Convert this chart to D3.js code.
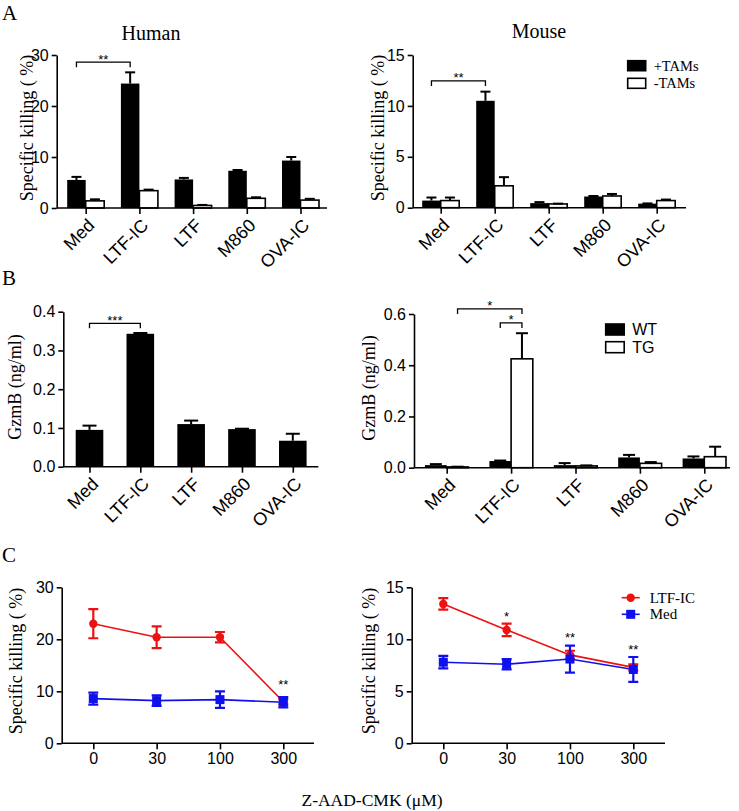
<!DOCTYPE html>
<html>
<head>
<meta charset="utf-8">
<script src="https://cdn.jsdelivr.net/npm/d3@7"></script>
<style>
  body { margin: 0; background: #fff; }
  svg text { fill: #000; }
</style>
</head>
<body>
<div id="fig"></div>
<script>
const groups = ["Med", "LTF-IC", "LTF", "M860", "OVA-IC"];

// A: specific killing, +TAMs / -TAMs
const humanPlus = [5.5, 24.4, 5.6, 7.3, 9.3];
const humanPlusErr = [0.6, 2.2, 0.3, 0.15, 0.7];
const humanMinus = [1.4, 3.4, 0.5, 1.9, 1.55];
const humanMinusErr = [0.3, 0.2, 0.1, 0.2, 0.25];
const mousePlus = [0.7, 10.5, 0.45, 1.1, 0.4];
const mousePlusErr = [0.3, 0.9, 0.1, 0.05, 0.02];
const mouseMinus = [0.7, 2.15, 0.37, 1.15, 0.7];
const mouseMinusErr = [0.3, 0.85, 0.03, 0.2, 0.1];

// B: GzmB (ng/ml)
const gzmbHuman = [0.095, 0.343, 0.110, 0.097, 0.067];
const gzmbHumanErr = [0.011, 0.002, 0.009, 0.001, 0.018];
const gzmbWT = [0.01, 0.026, 0.01, 0.04, 0.036];
const gzmbWTErr = [0.004, 0.002, 0.008, 0.01, 0.008];
const gzmbTG = [0.003, 0.425, 0.007, 0.017, 0.043];
const gzmbTGErr = [0.001, 0.1, 0.002, 0.005, 0.039];

// C: dose response
const doses = ["0", "30", "100", "300"];
const ltfHuman = [23.0, 20.4, 20.4, 8.0];
const ltfHumanErr = [2.8, 2.1, 1.0, 0.5];
const medHuman = [8.6, 8.2, 8.4, 7.9];
const medHumanErr = [1.15, 1.0, 1.6, 1.0];
const ltfMouse = [13.4, 10.9, 8.5, 7.3];
const ltfMouseErr = [0.55, 0.6, 0.4, 0.3];
const medMouse = [7.8, 7.6, 8.1, 7.1];
const medMouseErr = [0.6, 0.5, 1.3, 1.2];

const SERIF = "'Liberation Serif','Times New Roman',serif";
const SANS = "'Liberation Sans',Arial,sans-serif";
const RED = "#ee1111", BLUE = "#1010ee";

const svg = d3.select("#fig").append("svg")
    .attr("width", 739)
    .attr("height", 811);

function yAxis(g, y, ax, ticks, fmt) {
  const a = g.append("g")
      .attr("transform", `translate(${ax},0)`)
      .call(d3.axisLeft(y).tickValues(ticks).tickFormat(fmt)
        .tickSize(5).tickPadding(3).tickSizeOuter(0));
  a.selectAll("path,line").attr("stroke", "#000").attr("stroke-width", 1.6);
  a.selectAll("text").attr("font-family", SANS).attr("font-size", 16);
}

function xAxis(g, x, o, rotate) {
  g.append("line")
      .attr("x1", o.ax).attr("x2", o.end)
      .attr("y1", o.y0).attr("y2", o.y0)
      .attr("stroke", "#000").attr("stroke-width", 1.6);
  const a = g.append("g")
      .attr("transform", `translate(0,${o.y0})`)
      .call(d3.axisBottom(x).tickSize(6).tickPadding(3).tickSizeOuter(0));
  a.select(".domain").remove();
  a.selectAll("line").attr("stroke", "#000").attr("stroke-width", 1.6);
  const t = a.selectAll("text").attr("font-family", SANS).attr("font-size", 16);
  if (rotate) {
    t.attr("x", 0).attr("y", 0).attr("dy", "0.35em")
     .attr("font-size", 18)
     .attr("transform", "translate(5,14) rotate(-45)")
     .attr("text-anchor", "end");
  }
}

function yLabel(text, lx, ly) {
  svg.append("text")
      .attr("transform", `translate(${lx},${ly}) rotate(-90)`)
      .attr("text-anchor", "middle")
      .attr("font-family", SERIF)
      .attr("font-size", 18)
      .text(text);
}

function barPanel(o) {
  const x = d3.scalePoint().domain(groups).range([o.c0, o.c1]);
  const y = d3.scaleLinear().domain([0, o.max]).range([o.y0, o.yTop]);
  const g = svg.append("g");
  const n = o.series.length;
  const off = (i) => n === 1 ? -o.bw / 2 : (i === 0 ? -o.bw : 0);
  const mid = (grp, i) => x(grp) + off(i) + o.bw / 2;

  o.series.forEach((s, i) => {
    const rows = groups.map((grp, k) => ({ grp, v: s.vals[k], e: s.errs[k] }));
    g.selectAll(null).data(rows).join("rect")
        .attr("x", d => x(d.grp) + off(i))
        .attr("y", d => y(d.v))
        .attr("width", o.bw)
        .attr("height", d => y(0) - y(d.v))
        .attr("fill", s.fill)
        .attr("stroke", "#000")
        .attr("stroke-width", s.fill === "#000" ? 0 : 1.6);
    g.selectAll(null).data(rows).join("line")
        .attr("x1", d => mid(d.grp, i)).attr("x2", d => mid(d.grp, i))
        .attr("y1", d => y(d.v)).attr("y2", d => y(d.v + d.e))
        .attr("stroke", "#000").attr("stroke-width", 2);
    g.selectAll(null).data(rows).join("line")
        .attr("x1", d => mid(d.grp, i) - o.cap / 2).attr("x2", d => mid(d.grp, i) + o.cap / 2)
        .attr("y1", d => y(d.v + d.e)).attr("y2", d => y(d.v + d.e))
        .attr("stroke", "#000").attr("stroke-width", 2);
  });

  yAxis(g, y, o.ax, o.ticks, o.fmt);
  xAxis(g, x, o, true);

  (o.brackets || []).forEach(b => {
    const x1 = mid(b.from[0], b.from[1]), x2 = mid(b.to[0], b.to[1]);
    const yb = y(b.level);
    g.append("path")
        .attr("d", `M${x1},${yb + 5}V${yb}H${x2}V${yb + 5}`)
        .attr("fill", "none").attr("stroke", "#000").attr("stroke-width", 1.3);
    g.append("text")
        .attr("x", (x1 + x2) / 2).attr("y", yb + 1.5)
        .attr("text-anchor", "middle")
        .attr("font-family", SANS).attr("font-size", 13)
        .text(b.star);
  });

  if (o.legend) {
    o.legend.forEach((l, i) => {
      g.append("rect")
          .attr("x", o.legendX).attr("y", o.legendY + i * o.legendStep)
          .attr("width", o.legendW).attr("height", o.legendH)
          .attr("fill", o.series[i].fill)
          .attr("stroke", "#000").attr("stroke-width", 1.6);
      g.append("text")
          .attr("x", o.legendX + o.legendW + 8)
          .attr("y", o.legendY + i * o.legendStep + o.legendH)
          .attr("font-family", o.legendFont).attr("font-size", o.legendSize)
          .text(l);
    });
  }
}

function linePanel(o) {
  const x = d3.scalePoint().domain(doses).range([o.c0, o.c1]);
  const y = d3.scaleLinear().domain([0, o.max]).range([o.y0, o.yTop]);
  const g = svg.append("g");

  o.series.forEach(s => {
    const rows = doses.map((d, k) => ({ d, v: s.vals[k], e: s.errs[k] }));
    g.append("path")
        .datum(rows)
        .attr("d", d3.line().x(r => x(r.d)).y(r => y(r.v)))
        .attr("fill", "none").attr("stroke", s.color).attr("stroke-width", 1.6);
    g.selectAll(null).data(rows).join("path")
        .attr("d", r => {
          const cx = x(r.d), hi = y(r.v + r.e), lo = y(r.v - r.e);
          return `M${cx},${hi}V${lo}M${cx - 5},${hi}H${cx + 5}M${cx - 5},${lo}H${cx + 5}`;
        })
        .attr("fill", "none").attr("stroke", s.color).attr("stroke-width", 2.2);
    if (s.shape === "circle") {
      g.selectAll(null).data(rows).join("circle")
          .attr("cx", r => x(r.d)).attr("cy", r => y(r.v)).attr("r", 4.2)
          .attr("fill", s.color);
    } else {
      g.selectAll(null).data(rows).join("rect")
          .attr("x", r => x(r.d) - 4.5).attr("y", r => y(r.v) - 4.5)
          .attr("width", 9).attr("height", 9)
          .attr("fill", s.color);
    }
  });

  yAxis(g, y, o.ax, o.ticks, d3.format("d"));
  xAxis(g, x, o, false);

  (o.stars || []).forEach(s => {
    g.append("text")
        .attr("x", x(s.dose)).attr("y", y(s.level) + 7.5)
        .attr("text-anchor", "middle")
        .attr("font-family", SANS).attr("font-size", 13)
        .text(s.star);
  });

  if (o.legend) {
    o.series.forEach((s, i) => {
      const ly = o.legendY + i * 16.6;
      g.append("line")
          .attr("x1", o.legendX).attr("x2", o.legendX + 18)
          .attr("y1", ly).attr("y2", ly)
          .attr("stroke", s.color).attr("stroke-width", 1.6);
      if (s.shape === "circle") {
        g.append("circle").attr("cx", o.legendX + 9).attr("cy", ly).attr("r", 4.2).attr("fill", s.color);
      } else {
        g.append("rect").attr("x", o.legendX + 4.5).attr("y", ly - 4.5)
            .attr("width", 9).attr("height", 9).attr("fill", s.color);
      }
      g.append("text")
          .attr("x", o.legendX + 28).attr("y", ly + 5)
          .attr("font-family", SERIF).attr("font-size", 15)
          .text(s.name);
    });
  }
}

// panel letters and titles
[["A", 20], ["B", 285], ["C", 562]].forEach(([t, yy]) => {
  svg.append("text").attr("x", 2).attr("y", yy)
      .attr("font-family", SERIF).attr("font-size", 21).text(t);
});
svg.append("text").attr("x", 151).attr("y", 40).attr("text-anchor", "middle")
    .attr("font-family", SERIF).attr("font-size", 20).text("Human");
svg.append("text").attr("x", 539).attr("y", 38).attr("text-anchor", "middle")
    .attr("font-family", SERIF).attr("font-size", 20).text("Mouse");

// A left
barPanel({
  ax: 56.7, end: 327, y0: 208, yTop: 55, max: 30, c0: 85.7, c1: 300.5,
  bw: 18.5, cap: 10, ticks: [0, 10, 20, 30], fmt: d3.format("d"),
  series: [
    { vals: humanPlus, errs: humanPlusErr, fill: "#000" },
    { vals: humanMinus, errs: humanMinusErr, fill: "#fff" }
  ],
  brackets: [{ from: ["Med", 0], to: ["LTF-IC", 0], level: 28.6, star: "**" }]
});
yLabel("Specific killing ( %)", 33, 128);

// A right
barPanel({
  ax: 412.7, end: 686, y0: 207.7, yTop: 55, max: 15, c0: 440.7, c1: 656.7,
  bw: 18.5, cap: 10, ticks: [0, 5, 10, 15], fmt: d3.format("d"),
  series: [
    { vals: mousePlus, errs: mousePlusErr, fill: "#000" },
    { vals: mouseMinus, errs: mouseMinusErr, fill: "#fff" }
  ],
  brackets: [{ from: ["Med", 0], to: ["LTF-IC", 0], level: 12.45, star: "**" }],
  legend: ["+TAMs", "-TAMs"],
  legendX: 627.7, legendY: 60.7, legendW: 18, legendH: 10, legendStep: 17.6,
  legendFont: SERIF, legendSize: 14.5
});
yLabel("Specific killing ( %)", 384, 128);

// B left
barPanel({
  ax: 63.3, end: 318.3, y0: 466.7, yTop: 311.7, max: 0.4, c0: 89.5, c1: 292.8,
  bw: 27.6, cap: 14, ticks: [0, 0.1, 0.2, 0.3, 0.4], fmt: d3.format(".1f"),
  series: [{ vals: gzmbHuman, errs: gzmbHumanErr, fill: "#000" }],
  brackets: [{ from: ["Med", 0], to: ["LTF-IC", 0], level: 0.37, star: "***" }]
});
yLabel("GzmB (ng/ml)", 21, 387);

// B right
barPanel({
  ax: 414, end: 730, y0: 467.7, yTop: 314, max: 0.6, c0: 446.7, c1: 704.3,
  bw: 21.7, cap: 12, ticks: [0, 0.2, 0.4, 0.6], fmt: d3.format(".1f"),
  series: [
    { vals: gzmbWT, errs: gzmbWTErr, fill: "#000" },
    { vals: gzmbTG, errs: gzmbTGErr, fill: "#fff" }
  ],
  brackets: [
    { from: ["Med", 1], to: ["LTF-IC", 1], level: 0.62, star: "*" },
    { from: ["LTF-IC", 0], to: ["LTF-IC", 1], level: 0.565, star: "*" }
  ],
  legend: ["WT", "TG"],
  legendX: 605.7, legendY: 324, legendW: 18.5, legendH: 11, legendStep: 17.7,
  legendFont: SANS, legendSize: 16
});
yLabel("GzmB (ng/ml)", 375, 388);

// C left
linePanel({
  ax: 61.7, end: 314, y0: 743.3, yTop: 587.3, max: 30, c0: 93.3, c1: 283.3,
  ticks: [0, 10, 20, 30],
  series: [
    { name: "LTF-IC", vals: ltfHuman, errs: ltfHumanErr, color: RED, shape: "circle" },
    { name: "Med", vals: medHuman, errs: medHumanErr, color: BLUE, shape: "square" }
  ],
  stars: [{ dose: "300", level: 11.8, star: "**" }]
});
yLabel("Specific killing ( %)", 22, 661);

// C right
linePanel({
  ax: 411.7, end: 665, y0: 743.3, yTop: 587.3, max: 15, c0: 443.3, c1: 633.3,
  ticks: [0, 5, 10, 15],
  series: [
    { name: "LTF-IC", vals: ltfMouse, errs: ltfMouseErr, color: RED, shape: "circle" },
    { name: "Med", vals: medMouse, errs: medMouseErr, color: BLUE, shape: "square" }
  ],
  stars: [
    { dose: "30", level: 12.5, star: "*" },
    { dose: "100", level: 10.5, star: "**" },
    { dose: "300", level: 9.3, star: "**" }
  ],
  legend: true, legendX: 621.7, legendY: 597.7
});
yLabel("Specific killing ( %)", 375, 661);

svg.append("text").attr("x", 372).attr("y", 806).attr("text-anchor", "middle")
    .attr("font-family", SERIF).attr("font-size", 17.5).text("Z-AAD-CMK (\u03bcM)");
</script>
</body>
</html>
